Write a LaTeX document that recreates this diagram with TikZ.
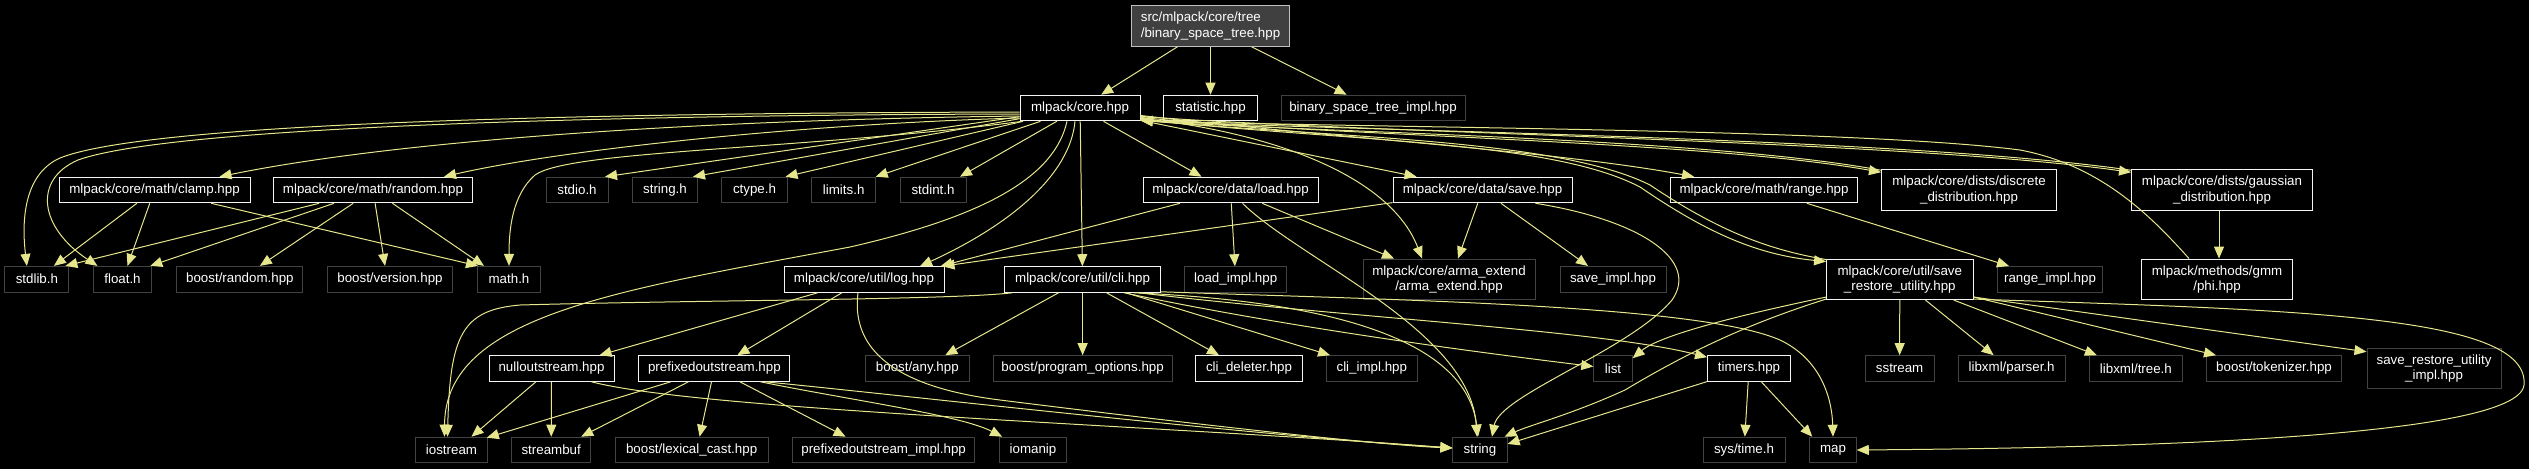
\documentclass[tikz,border=0pt]{standalone}
\usepackage{fontspec}
\setmainfont{Liberation Sans}
\usetikzlibrary{arrows.meta,calc}
\definecolor{edgec}{RGB}{230,230,140}
\definecolor{docc}{RGB}{245,245,245}
\definecolor{undocc}{RGB}{66,66,66}
\definecolor{rootfill}{RGB}{64,64,64}
\definecolor{rootdraw}{RGB}{191,191,191}
\begin{document}
\begin{tikzpicture}[x=0.75pt,y=-0.75pt,
  dd/.style={draw=docc, line width=0.75pt, fill=black, text=white, inner sep=0pt,
    minimum height=19.2pt, font=\fontsize{10}{11.5}\selectfont, align=center},
  ud/.style={dd, draw=undocc},
  rootst/.style={dd, draw=rootdraw, fill=rootfill},
  bw/.style={minimum width=#1*0.75pt},
  tall/.style={minimum height=30.4pt},
  e/.style={draw=edgec, line width=0.75pt, -{Triangle[length=9pt,width=7.5pt]}, fill=none}]
\fill[black] (0,0) rectangle (2529,469);
\useasboundingbox (0,0) rectangle (2529,469);

% ---- nodes ----
\node[rootst,bw=158,tall,align=left] (root) at (1210.5,26) {src/mlpack/core/tree\\/binary\_space\_tree.hpp};
\node[dd,bw=120] (core) at (1080,108) {mlpack/core.hpp};
\node[dd,bw=94] (statistic) at (1210.5,108) {statistic.hpp};
\node[ud,bw=184] (bstimpl) at (1373,108) {binary\_space\_tree\_impl.hpp};

\node[dd,bw=191] (clamp) at (154.5,190) {mlpack/core/math/clamp.hpp};
\node[dd,bw=199] (random) at (373,190) {mlpack/core/math/random.hpp};
\node[ud,bw=62] (stdio) at (577,190) {stdio.h};
\node[ud,bw=65] (stringh) at (665,190) {string.h};
\node[ud,bw=66] (ctype) at (754.5,190) {ctype.h};
\node[ud,bw=64] (limits) at (843.7,190) {limits.h};
\node[ud,bw=66] (stdint) at (933,190) {stdint.h};
\node[dd,bw=175] (load) at (1230.5,190) {mlpack/core/data/load.hpp};
\node[dd,bw=179] (save) at (1482.5,190) {mlpack/core/data/save.hpp};
\node[dd,bw=187] (range) at (1764,190) {mlpack/core/math/range.hpp};
\node[dd,bw=175,tall] (discrete) at (1969,190) {mlpack/core/dists/discrete\\\_distribution.hpp};
\node[dd,bw=181,tall] (gaussian) at (2222,190) {mlpack/core/dists/gaussian\\\_distribution.hpp};

\node[ud,bw=64] (stdlib) at (36.9,279.2) {stdlib.h};
\node[ud,bw=58.6] (float) at (122.5,279.2) {float.h};
\node[ud,bw=126] (brandom) at (239.9,279.2) {boost/random.hpp};
\node[ud,bw=125] (bversion) at (390,279.2) {boost/version.hpp};
\node[ud,bw=63] (math) at (509,279.2) {math.h};
\node[dd,bw=160] (log) at (864,279.5) {mlpack/core/util/log.hpp};
\node[dd,bw=156] (cli) at (1082.6,279.5) {mlpack/core/util/cli.hpp};
\node[ud,bw=102] (loadimpl) at (1235.7,279.5) {load\_impl.hpp};
\node[ud,bw=172,tall] (arma) at (1449,279.3) {mlpack/core/arma\_extend\\/arma\_extend.hpp};
\node[ud,bw=106] (saveimpl) at (1613,279.3) {save\_impl.hpp};
\node[dd,bw=146.5,tall] (sru) at (1899.8,279.3) {mlpack/core/util/save\\\_restore\_utility.hpp};
\node[ud,bw=105] (rangeimpl) at (2050,279.3) {range\_impl.hpp};
\node[dd,bw=151,tall] (phi) at (2217,279.3) {mlpack/methods/gmm\\/phi.hpp};

\node[dd,bw=125] (nullout) at (551.5,368.5) {nulloutstream.hpp};
\node[dd,bw=151] (prefout) at (714.4,368.5) {prefixedoutstream.hpp};
\node[ud,bw=104] (bany) at (917.3,368.5) {boost/any.hpp};
\node[ud,bw=179] (bpo) at (1082.6,368.5) {boost/program\_options.hpp};
\node[dd,bw=107] (clidel) at (1249,368.5) {cli\_deleter.hpp};
\node[ud,bw=90.5] (cliimpl) at (1371.8,368.5) {cli\_impl.hpp};
\node[ud,bw=38.4] (list) at (1613,368.5) {list};
\node[dd,bw=83] (timers) at (1749,368.5) {timers.hpp};
\node[ud,bw=69] (sstream) at (1899.6,368.5) {sstream};
\node[ud,bw=107] (parser) at (2011.6,368.5) {libxml/parser.h};
\node[ud,bw=93] (tree) at (2135.9,368.5) {libxml/tree.h};
\node[ud,bw=135] (tokenizer) at (2274,368.5) {boost/tokenizer.hpp};
\node[ud,bw=134,tall] (sruimpl) at (2434,368.5) {save\_restore\_utility\\\_impl.hpp};

\node[ud,bw=71.6] (iostream) at (451.5,450) {iostream};
\node[ud,bw=79] (streambuf) at (551.2,450) {streambuf};
\node[ud,bw=153] (lexcast) at (691.6,450) {boost/lexical\_cast.hpp};
\node[ud,bw=182] (prefimpl) at (883.6,450) {prefixedoutstream\_impl.hpp};
\node[ud,bw=66.7] (iomanip) at (1033,450) {iomanip};
\node[ud,bw=54.2] (string) at (1480,450) {string};
\node[ud,bw=82] (systime) at (1744,450) {sys/time.h};
\node[ud,bw=46.5] (map) at (1833,450) {map};

% ---- edges ----
\draw[e] (root) -- (core);
\draw[e] (root) -- (statistic);
\draw[e] (root) -- (bstimpl);

% core, left side
\draw[e] ($(core.west)+(0,4)$) .. controls (600,113) and (150,122) .. (60,158) .. controls (22,175) and (22,225) .. ($(stdlib.north)+(-10,0)$);
\draw[e] ($(core.west)+(0,6)$) .. controls (600,115) and (170,127) .. (78,160) .. controls (32,180) and (40,228) .. ($(float.north)+(-25,0)$);
\draw[e] ($(core.west)+(0,8)$) .. controls (700,120) and (400,140) .. ($(clamp.north)+(65,0)$);
\draw[e] ($(core.west)+(0,10)$) .. controls (800,124) and (560,150) .. ($(random.north)+(71,0)$);
\draw[e] ($(core.south west)+(3,0)$) .. controls (800,150) and (570,150) .. (535,175) .. controls (512,195) and (509,230) .. (math.north);
\draw[e] (core) -- ($(stdio.north)+(28,0)$);
\draw[e] (core) -- ($(stringh.north)+(28,0)$);
\draw[e] (core) -- ($(ctype.north)+(31,0)$);
\draw[e] (core) -- ($(limits.north)+(32,0)$);
\draw[e] (core) -- ($(stdint.north)+(27,0)$);
\draw[e] ($(core.south)+(-13,0)$) .. controls (1055,175) and (990,215) .. (850,247) .. controls (620,290) and (445,315) .. ($(iostream.north)+(-7,0)$);
\draw[e] ($(core.south)+(-5,0)$) .. controls (1070,175) and (1010,225) .. ($(log.north)+(56,0)$);
\draw[e] (core) -- (cli);
\draw[e] (core) -- ($(load.north)+(-29,0)$);
\draw[e] (core) -- ($(save.north)+(-66,0)$);

% core, right side (all passing below statistic.hpp)
\draw[e] ($(core.south east)+(0,-3)$) .. controls (1270,132) and (1390,175) .. ($(arma.north)+(-27,0)$);
\draw[e] (core) .. controls (1300,135) and (1550,150) .. ($(range.north)+(-70,0)$);
\draw[e] ($(core.south east)+(0,-4)$) .. controls (1300,135) and (1700,140) .. ($(discrete.north west)+(0,3)$);
\draw[e] ($(discrete.north west)+(0,1)$) .. controls (1700,137) and (1300,132) .. ($(core.south east)+(0,-1)$);
\draw[e] ($(core.south east)+(0,-5)$) .. controls (1350,133) and (1900,140) .. ($(gaussian.north west)+(0,3)$);
\draw[e] ($(gaussian.north west)+(0,1)$) .. controls (1900,137) and (1350,131) .. ($(core.south east)+(0,-1)$);
\draw[e] ($(core.south east)+(0,-2)$) .. controls (1350,142) and (1550,140) .. (1640,187) .. controls (1710,235) and (1760,255) .. ($(sru.north west)+(0,3)$);
\draw[e] ($(sru.north west)+(0,1)$) .. controls (1770,250) and (1720,232) .. (1650,185) .. controls (1560,140) and (1350,138) .. ($(core.south east)+(0,-1)$);
\draw[e] ($(phi.north west)+(48,0)$) .. controls (2150,215) and (2100,165) .. (2020,150) .. controls (1850,128) and (1350,128) .. ($(core.south east)+(0,-1)$);
\draw[e] ($(gaussian.south)+(-3,0)$) -- ($(phi.north)+(2,0)$);

% clamp, random
\draw[e] (clamp) -- ($(stdlib.north)+(17,0)$);
\draw[e] (clamp) -- ($(float.north)+(5,0)$);
\draw[e] (clamp) -- ($(math.north west)+(1,0)$);
\draw[e] (random) -- ($(stdlib.north east)+(-4,0)$);
\draw[e] (random) -- ($(float.north east)+(-2,0)$);
\draw[e] (random) -- ($(brandom.north)+(20,0)$);
\draw[e] (random) -- ($(bversion.north)+(-5,0)$);
\draw[e] (random) -- ($(math.north west)+(7,0)$);

% log
\draw[e] (log) -- ($(nullout.north east)+(-15,0)$);
\draw[e] (log) -- ($(prefout.north)+(23,0)$);
\draw[e] ($(log.south)+(-6,0)$) .. controls (852,340) and (880,385) .. (1000,400) .. controls (1200,425) and (1380,445) .. ($(string.west)+(0,-2)$);

% nulloutstream
\draw[e] (nullout) -- ($(iostream.north)+(20,0)$);
\draw[e] (nullout) -- (streambuf);
\draw[e] ($(nullout.south east)+(-23,0)$) .. controls (700,410) and (1150,425) .. ($(string.west)+(0,-2)$);

% prefixedoutstream
\draw[e] (prefout) -- ($(iostream.north east)+(-1,1)$);
\draw[e] (prefout) -- ($(streambuf.north)+(30,0)$);
\draw[e] (prefout) -- ($(lexcast.north)+(8,0)$);
\draw[e] (prefout) -- ($(prefimpl.north)+(-38,0)$);
\draw[e] ($(prefout.south east)+(-30,0)$) .. controls (850,400) and (960,415) .. ($(iomanip.north west)+(3,0)$);
\draw[e] ($(prefout.south east)+(-25,0)$) .. controls (900,395) and (1250,435) .. ($(string.west)+(0,-2)$);

% cli
\draw[e] ($(cli.south west)+(8,0)$) .. controls (950,300) and (700,300) .. (520,305) .. controls (462,310) and (450,335) .. ($(iostream.north)+(-4,0)$);
\draw[e] (cli) -- ($(bany.north)+(28,0)$);
\draw[e] (cli) -- (bpo);
\draw[e] (cli) -- ($(clidel.north)+(-30,0)$);
\draw[e] (cli) -- ($(cliimpl.north west)+(4,0)$);
\draw[e] ($(cli.south east)+(-37,0)$) .. controls (1300,330) and (1500,355) .. ($(list.west)+(0,-2)$);
\draw[e] ($(cli.south east)+(-22,0)$) .. controls (1350,318) and (1600,330) .. ($(timers.north west)+(0,2)$);
\draw[e] ($(cli.south east)+(0,-1)$) .. controls (1400,300) and (1700,305) .. (1780,340) .. controls (1822,360) and (1832,400) .. (map.north);
\draw[e] ($(cli.south east)+(-27,0)$) .. controls (1300,300) and (1465,330) .. ($(string.north)+(-2,0)$);

% load
\draw[e] ($(load.south)+(12,0)$) .. controls (1300,260) and (1470,330) .. ($(string.north)+(-3,0)$);
\draw[e] (load) -- (loadimpl);
\draw[e] (load) -- ($(log.north east)+(-4,0)$);
\draw[e] (load) -- ($(arma.north)+(-55,0)$);

% save
\draw[e] (save) -- ($(log.north east)+(-2,0)$);
\draw[e] (save) -- ($(arma.north)+(9,0)$);
\draw[e] (save) -- ($(saveimpl.north)+(-25,0)$);
\draw[e] ($(save.south east)+(-37,0)$) .. controls (1640,220) and (1700,260) .. (1672,300) .. controls (1630,350) and (1500,395) .. ($(string.north)+(12,0)$);

% range
\draw[e] (range) -- ($(rangeimpl.north west)+(12,0)$);

% save_restore_utility
\draw[e] (sru) -- (sstream);
\draw[e] (sru) -- ($(parser.north)+(-18,0)$);
\draw[e] (sru) -- ($(tree.north west)+(8,0)$);
\draw[e] (sru) -- ($(tokenizer.north west)+(10,0)$);
\draw[e] ($(sru.south east)+(0,-3)$) -- ($(sruimpl.north west)+(0,4)$);
\draw[e] ($(sru.south east)+(0,-1)$) .. controls (2300,310) and (2530,315) .. (2524,385) .. controls (2518,440) and (2100,448) .. (map.east);
\draw[e] ($(sru.south west)+(0,-3)$) .. controls (1740,315) and (1660,335) .. ($(list.north east)+(0,3)$);
\draw[e] ($(sru.south west)+(0,-1)$) .. controls (1760,320) and (1700,345) .. (1625,390) .. controls (1570,415) and (1530,425) .. ($(string.north east)+(-3,0)$);

% timers
\draw[e] (timers) -- (systime);
\draw[e] (timers) -- ($(map.north west)+(3,0)$);
\draw[e] (timers) -- ($(string.east)+(0,-6)$);
\end{tikzpicture}
\end{document}
